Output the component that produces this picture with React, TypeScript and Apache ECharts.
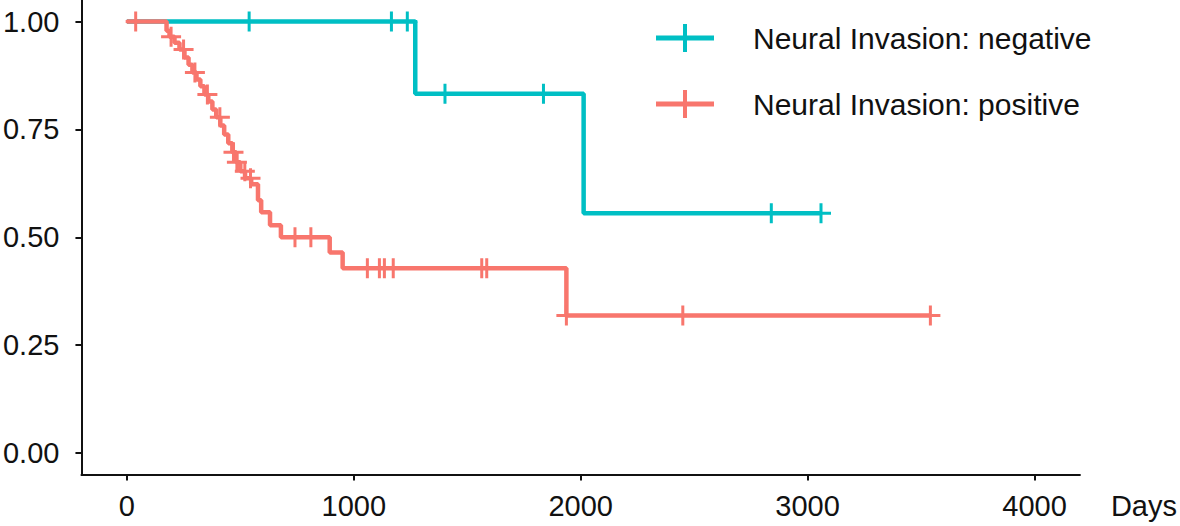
import React, { useEffect, useRef } from "react";
import * as echarts from "echarts";

// Neural Invasion: negative
const negEventDays = [0, 1271, 2013];
const negEventSurv = [1, 0.833, 0.556];
const negEndDay = 3059;
const negCensorDays = [539, 1166, 1236, 1402, 1836, 2840, 3059];

// Neural Invasion: positive
const posEventDays = [0, 175, 188, 210, 232, 254, 272, 289, 307, 324, 342, 359, 377, 394, 412, 429, 447, 465, 482, 500, 521, 548, 578, 592, 631, 679, 894, 951, 1937];
const posEventSurv = [1, 0.979, 0.965, 0.951, 0.935, 0.917, 0.9, 0.882, 0.866, 0.85, 0.831, 0.815, 0.796, 0.778, 0.759, 0.738, 0.718, 0.697, 0.674, 0.653, 0.637, 0.623, 0.586, 0.558, 0.528, 0.5, 0.465, 0.428, 0.319];
const posEndDay = 3541;
const posCensorDays = [39, 195, 250, 300, 355, 410, 470, 485, 520, 545, 741, 811, 1060, 1113, 1135, 1174, 1564, 1586, 1937, 2450, 3541];

const xTicks = [0, 1000, 2000, 3000, 4000];
const yTicks = [0, 0.25, 0.5, 0.75, 1];
const seriesNames = ["Neural Invasion: negative", "Neural Invasion: positive"];
const colors = ["#00BFC4", "#F8766D"];

function survAt(days: number[], surv: number[], t: number) {
  let s = surv[0];
  for (let i = 0; i < days.length; i++) if (days[i] <= t) s = surv[i];
  return s;
}
function curve(days: number[], surv: number[], end: number) {
  const d = days.map((x, i) => [x, surv[i]]);
  d.push([end, surv[surv.length - 1]]);
  return d;
}
function censors(days: number[], surv: number[], cd: number[]) {
  return cd.map((t) => [t, survAt(days, surv, t)]);
}

const plusPath = "path://M0,8.5H20V11.5H0Z M8.5,0H11.5V20H8.5Z";
const legendIcon = "path://M0,11.5H58V16.5H0Z M27,0H31V28H27Z";
const FONT = "Liberation Sans, Arial, sans-serif";

export default function App() {
  const ref = useRef<HTMLDivElement>(null);
  useEffect(() => {
    if (!ref.current) return;
    const chart = echarts.init(ref.current, undefined, { renderer: "svg" });
    chart.setOption({
      animation: false,
      backgroundColor: "#fff",
      grid: { left: 78, right: 98, top: 0, bottom: 51.4, containLabel: false },
      legend: {
        orient: "vertical",
        left: 651,
        top: 18,
        itemWidth: 58,
        itemHeight: 28,
        itemGap: 36,
        data: seriesNames.map((n) => ({ name: n, icon: legendIcon })),
        textStyle: { fontFamily: FONT, fontSize: 30, color: "#111", padding: [0, 0, 0, 34] },
        selectedMode: false,
      },
      xAxis: {
        type: "value",
        min: -200,
        max: 4200,
        name: "Days",
        nameLocation: "end",
        nameGap: 31,
        nameTextStyle: { fontFamily: FONT, fontSize: 29, color: "#111", align: "left", verticalAlign: "top", padding: [17, 0, 0, 0] },
        axisLine: { show: true, onZero: false, lineStyle: { color: "#111", width: 2 } },
        axisTick: { show: true, inside: false, length: 6, lineStyle: { color: "#111", width: 2 }, customValues: xTicks },
        axisLabel: { fontFamily: FONT, fontSize: 29, color: "#111", margin: 17, customValues: xTicks, formatter: (v: number) => String(v) },
        splitLine: { show: false },
      },
      yAxis: {
        type: "value",
        min: -0.05,
        max: 1.05,
        axisLine: { show: true, onZero: false, lineStyle: { color: "#111", width: 2 } },
        axisTick: { show: true, inside: false, length: 6, lineStyle: { color: "#111", width: 2 }, customValues: yTicks },
        axisLabel: { fontFamily: FONT, fontSize: 29, color: "#111", margin: 22, customValues: yTicks, formatter: (v: number) => v.toFixed(2) },
        splitLine: { show: false },
      },
      series: [
        {
          name: seriesNames[0],
          type: "line",
          step: "end",
          showSymbol: false,
          data: curve(negEventDays, negEventSurv, negEndDay),
          lineStyle: { color: colors[0], width: 4.5 },
          itemStyle: { color: colors[0] },
          z: 2,
        },
        {
          name: seriesNames[0] + " censor",
          type: "scatter",
          symbol: plusPath,
          symbolSize: 20,
          data: censors(negEventDays, negEventSurv, negCensorDays),
          itemStyle: { color: colors[0], opacity: 1 },
          z: 3,
        },
        {
          name: seriesNames[1],
          type: "line",
          step: "end",
          showSymbol: false,
          data: curve(posEventDays, posEventSurv, posEndDay),
          lineStyle: { color: colors[1], width: 4.5 },
          itemStyle: { color: colors[1] },
          z: 4,
        },
        {
          name: seriesNames[1] + " censor",
          type: "scatter",
          symbol: plusPath,
          symbolSize: 20,
          data: censors(posEventDays, posEventSurv, posCensorDays),
          itemStyle: { color: colors[1], opacity: 1 },
          z: 5,
        },
      ],
    });
    return () => chart.dispose();
  }, []);
  return <div ref={ref} style={{ position: "fixed", left: 0, top: 0, width: 1180, height: 526 }} />;
}
